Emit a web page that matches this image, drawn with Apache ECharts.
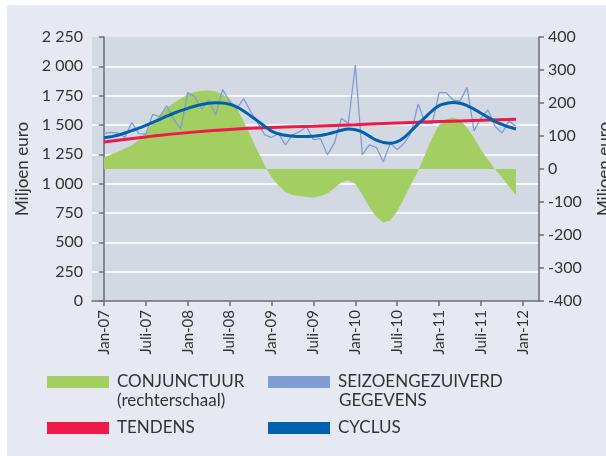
<!DOCTYPE html>
<html>
<head>
<meta charset="utf-8">
<script src="https://cdn.jsdelivr.net/npm/echarts@6/dist/echarts.min.js"></script>
<style>
  html, body { margin: 0; padding: 0; background: #fff; }
  #chart { position: absolute; left: 7px; top: 5px; width: 599px; height: 451px; }
</style>
</head>
<body>
<div id="chart"></div>
<script>
// month index: 0 = Jan-07 ... 59 = Dec-11
var tickMonths = [0, 6, 12, 18, 24, 30, 36, 42, 48, 54, 60];
var tickLabels = ['Jan-07', 'Juli-07', 'Jan-08', 'Juli-08', 'Jan-09', 'Juli-09', 'Jan-10', 'Juli-10', 'Jan-11', 'Juli-11', 'Jan-12'];

// conjunctuur (right scale), monthly
var conjunctuur = [35, 43, 52, 62, 72, 88, 112, 140, 165, 185, 200, 214, 226, 233, 237, 238, 235, 226, 212, 186,
  145, 100, 55, 12, -24, -50, -70, -79, -82, -85, -86, -82, -74, -58, -40, -35, -45, -78, -115, -145,
  -162, -156, -128, -88, -45, -5, 45, 95, 133, 150, 156, 148, 125, 95, 58, 28, 0, -26, -53, -79];

// seizoengezuiverde gegevens, monthly
var seizoen = [1429, 1438, 1432, 1395, 1522, 1426, 1420, 1591, 1571, 1664, 1548, 1465, 1776, 1742, 1636, 1713, 1585, 1804, 1700, 1635,
  1725, 1617, 1520, 1418, 1393, 1429, 1330, 1415, 1443, 1486, 1375, 1384, 1246, 1347, 1557, 1514, 2011, 1247, 1330, 1310,
  1187, 1344, 1292, 1345, 1435, 1679, 1515, 1512, 1776, 1776, 1713, 1706, 1821, 1450, 1560, 1628, 1490, 1432, 1533, 1489];

// cyclus, monthly
var cyclus = [1392, 1400, 1413, 1432, 1452, 1473, 1496, 1522, 1548, 1575, 1600, 1622, 1642, 1660, 1675, 1685, 1690, 1688, 1677, 1655,
  1620, 1578, 1535, 1490, 1448, 1425, 1413, 1406, 1403, 1403, 1405, 1410, 1422, 1438, 1455, 1465, 1460, 1440, 1405, 1372,
  1352, 1345, 1358, 1395, 1450, 1510, 1565, 1620, 1665, 1683, 1692, 1685, 1665, 1635, 1600, 1565, 1530, 1505, 1483, 1466];

// tendens
var trendMonths = [0, 6, 12, 18, 24, 30, 36, 42, 48, 54, 59];
var trendValues = [1355, 1398, 1435, 1462, 1478, 1490, 1503, 1518, 1530, 1540, 1549];

var font = 'Lato';
var textColor = '#333';
var axisColor = '#6b6e73';

function pairs(vals) { return vals.map(function (v, i) { return [i, v]; }); }
function thousands(v) { return String(v).replace(/\B(?=(\d{3})+(?!\d))/g, ' '); }

var legendText = { fontFamily: font, fontSize: 17, color: textColor, lineHeight: 20, padding: [0, 0, 0, 3] };

var chart = echarts.init(document.getElementById('chart'));
chart.setOption({
  backgroundColor: '#e6e9f1',
  animation: false,
  grid: {
    left: 85, right: 67, top: 32, bottom: 155, outerBoundsMode: 'none', containLabel: false,
    show: true, backgroundColor: '#d3d9e3', borderWidth: 0
  },
  xAxis: {
    type: 'value', min: -1.7, max: 62.3,
    axisLine: { lineStyle: { color: axisColor, width: 1.5 } },
    axisTick: { length: 5, customValues: tickMonths, lineStyle: { color: axisColor, width: 1.5 } },
    axisLabel: {
      customValues: tickMonths, rotate: 90, margin: 9,
      fontFamily: font, fontSize: 15, color: textColor,
      formatter: function (v) { return tickLabels[tickMonths.indexOf(v)]; }
    },
    splitLine: { show: false }
  },
  yAxis: [{
    type: 'value', min: 0, max: 2250, interval: 250, position: 'left',
    name: 'Miljoen euro', nameLocation: 'middle', nameGap: 57, nameRotate: 90,
    nameTextStyle: { fontFamily: font, fontSize: 17, color: textColor },
    axisLine: { show: true, lineStyle: { color: axisColor, width: 1.5 } },
    axisTick: { show: true, length: 5, lineStyle: { color: axisColor, width: 1.5 } },
    axisLabel: { margin: 9, fontFamily: font, fontSize: 16, color: textColor, formatter: thousands },
    splitLine: { show: true, showMinLine: false, showMaxLine: false, lineStyle: { color: '#ffffff', width: 1.5 } }
  }, {
    type: 'value', min: -400, max: 400, interval: 100, position: 'right',
    name: 'Miljoen euro', nameLocation: 'middle', nameGap: 57, nameRotate: 90,
    nameTextStyle: { fontFamily: font, fontSize: 17, color: textColor },
    axisLine: { show: true, lineStyle: { color: axisColor, width: 1.5 } },
    axisTick: { show: true, length: 5, lineStyle: { color: axisColor, width: 1.5 } },
    axisLabel: { margin: 9, fontFamily: font, fontSize: 16, color: textColor },
    splitLine: { show: false }
  }],
  legend: [{
    data: ['CONJUNCTUUR', 'TENDENS'], orient: 'vertical', left: 40, top: 367, padding: 0,
    icon: 'rect', itemWidth: 62, itemHeight: 12, itemGap: 26, selectedMode: false,
    itemStyle: { borderWidth: 0 }, textStyle: legendText
  }, {
    data: ['SEIZOENGEZUIVERD', 'CYCLUS'], orient: 'vertical', left: 261, top: 367, padding: 0,
    icon: 'rect', itemWidth: 62, itemHeight: 12, itemGap: 26, selectedMode: false,
    itemStyle: { borderWidth: 0 }, textStyle: legendText
  }],
  graphic: [
    { type: 'text', left: 110, top: 387, style: { text: '(rechterschaal)', font: '17px Lato', fill: textColor } },
    { type: 'text', left: 332, top: 387, style: { text: 'GEGEVENS', font: '17px Lato', fill: textColor } }
  ],
  series: [{
    name: 'CONJUNCTUUR', type: 'line', yAxisIndex: 1, data: pairs(conjunctuur),
    symbol: 'none', lineStyle: { width: 0 }, itemStyle: { color: '#a3cf62' },
    areaStyle: { color: '#a3cf62', opacity: 1 }
  }, {
    name: 'SEIZOENGEZUIVERD', type: 'line', data: pairs(seizoen),
    symbol: 'none', itemStyle: { color: '#7f9dd4' }, lineStyle: { color: '#7f9dd4', width: 1.3 }
  }, {
    name: 'TENDENS', type: 'line', smooth: true,
    data: trendMonths.map(function (m, i) { return [m, trendValues[i]]; }),
    symbol: 'none', itemStyle: { color: '#ee1a4a' }, lineStyle: { color: '#ee1a4a', width: 3 }
  }, {
    name: 'CYCLUS', type: 'line', smooth: true, data: pairs(cyclus),
    symbol: 'none', itemStyle: { color: '#0061ae' }, lineStyle: { color: '#0061ae', width: 3 }
  }]
});
</script>
</body>
</html>
